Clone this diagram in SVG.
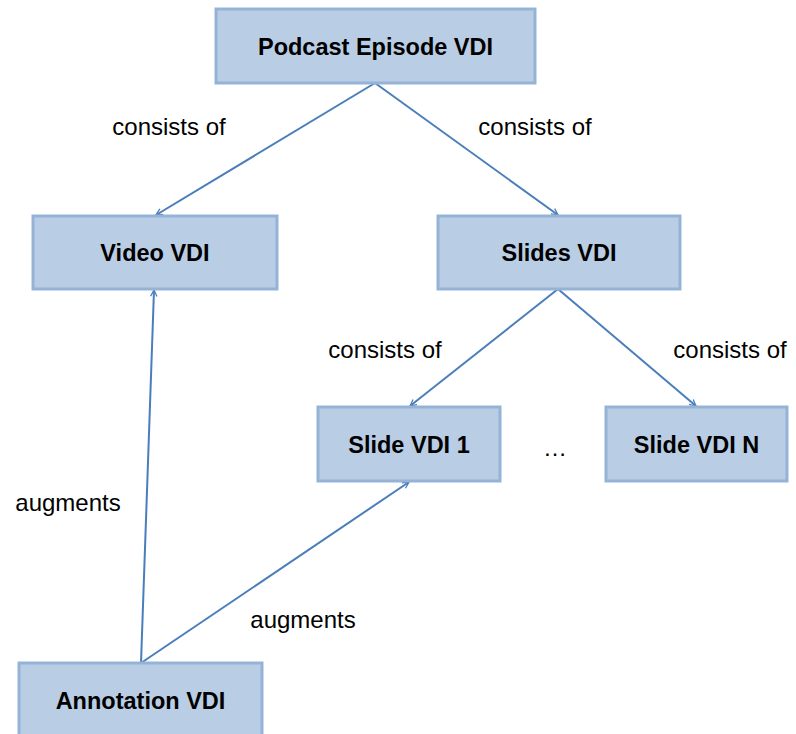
<svg xmlns="http://www.w3.org/2000/svg" width="796" height="734" viewBox="0 0 796 734">
<style>
.box{fill:#b9cde5;stroke:#95b3d7;stroke-width:3}
.bt{font-family:"Liberation Sans",Arial,sans-serif;font-weight:bold;font-size:23.5px;fill:#000;text-anchor:middle}
.lt{font-family:"Liberation Sans",Arial,sans-serif;font-size:24px;fill:#000;text-anchor:middle}
.c{stroke:#4a7ebb;stroke-width:2;fill:none;marker-end:url(#a)}
</style>
<defs>
<marker id="a" viewBox="0 0 10 10" refX="9" refY="5" markerWidth="8" markerHeight="8" markerUnits="userSpaceOnUse" orient="auto">
<path d="M1,1 L9,5 L1,9" fill="none" stroke="#4a7ebb" stroke-width="1.6"/>
</marker>
</defs>
<rect width="796" height="734" fill="#fff"/>
<g id="connectors">
<line class="c" x1="375" y1="83" x2="156" y2="215"/>
<line class="c" x1="375" y1="83" x2="558" y2="215"/>
<line class="c" x1="558" y1="289" x2="410" y2="406"/>
<line class="c" x1="558" y1="289" x2="696" y2="406"/>
<line class="c" x1="141" y1="663" x2="154" y2="290"/>
<line class="c" x1="141" y1="663" x2="409" y2="482"/>
</g>
<g id="labels">
<text class="lt" x="169" y="135">consists of</text>
<text class="lt" x="535" y="135">consists of</text>
<text class="lt" x="385" y="358">consists of</text>
<text class="lt" x="730" y="358">consists of</text>
<text class="lt" x="68" y="511">augments</text>
<text class="lt" x="303" y="628">augments</text>
<text class="lt" x="555" y="456">…</text>
</g>
<g id="podcast"><rect class="box" x="216" y="9" width="319" height="74"/><text class="bt" x="375.5" y="55">Podcast Episode VDI</text></g>
<g id="video"><rect class="box" x="33" y="216" width="244" height="73"/><text class="bt" x="155" y="261">Video VDI</text></g>
<g id="slides"><rect class="box" x="438" y="216" width="242" height="73"/><text class="bt" x="559" y="261">Slides VDI</text></g>
<g id="slide1"><rect class="box" x="318" y="407" width="182" height="74"/><text class="bt" x="409" y="453">Slide VDI 1</text></g>
<g id="slideN"><rect class="box" x="606" y="407" width="181" height="74"/><text class="bt" x="696.5" y="453">Slide VDI N</text></g>
<g id="annotation"><rect class="box" x="19" y="663" width="243" height="75"/><text class="bt" x="140.5" y="709">Annotation VDI</text></g>
</svg>
